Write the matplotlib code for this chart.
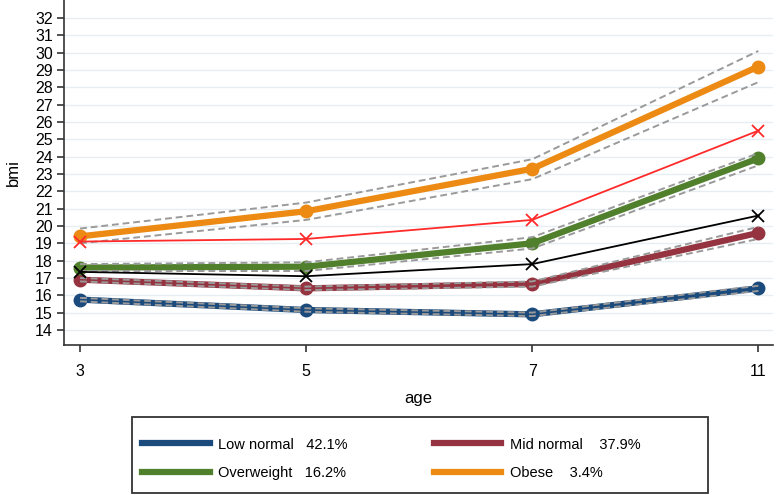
import matplotlib
matplotlib.use('Agg')
import matplotlib.pyplot as plt
from matplotlib.lines import Line2D
from matplotlib.patches import Rectangle

plt.rcParams['font.family'] = ['Liberation Sans', 'DejaVu Sans']

# --- data ---
ages = ['3', '5', '7', '11']

low_normal = [15.75, 15.15, 14.9, 16.4]
low_normal_hi = [15.85, 15.25, 15.0, 16.55]
low_normal_lo = [15.65, 15.05, 14.8, 16.25]

mid_normal = [16.9, 16.4, 16.65, 19.6]
mid_normal_hi = [17.0, 16.5, 16.8, 19.95]
mid_normal_lo = [16.8, 16.3, 16.5, 19.25]

overweight = [17.6, 17.65, 19.0, 23.9]
overweight_hi = [17.8, 17.9, 19.35, 24.2]
overweight_lo = [17.4, 17.4, 18.7, 23.5]

obese = [19.4, 20.85, 23.3, 29.2]
obese_hi = [19.85, 21.35, 23.85, 30.1]
obese_lo = [19.0, 20.35, 22.7, 28.3]

# reference curves (crosses)
red_ref = [19.1, 19.25, 20.35, 25.5]
black_ref = [17.35, 17.1, 17.8, 20.6]

groups = ['Low normal', 'Mid normal', 'Overweight', 'Obese']
shares = ['42.1%', '37.9%', '16.2%', '3.4%']
colors = ['#1b4a7c', '#953440', '#50802c', '#ec8a14']

series = [
    (low_normal, low_normal_lo, low_normal_hi),
    (mid_normal, mid_normal_lo, mid_normal_hi),
    (overweight, overweight_lo, overweight_hi),
    (obese, obese_lo, obese_hi),
]

fig = plt.figure(figsize=(7.76, 4.95), dpi=100)
ax = fig.add_axes([0.0825, 0.303, 0.914, 0.697])

x = list(range(len(ages)))

for yv in range(14, 33):
    ax.axhline(yv, color='#e6eef2', lw=1.0, zorder=0)

for (mean, lo, hi), c in zip(series, colors):
    ax.plot(x, mean, color=c, lw=4.5, marker='o', ms=9, zorder=3)
    ax.plot(x, hi, color='#9a9a9a', lw=1.4, ls=(0, (3.5, 2)), zorder=4)
    ax.plot(x, lo, color='#9a9a9a', lw=1.4, ls=(0, (3.5, 2)), zorder=4)

ax.plot(x, red_ref, color='#ff2a2a', lw=1.3, marker='x', ms=8, mew=1.3, zorder=5)
ax.plot(x, black_ref, color='black', lw=1.3, marker='x', ms=8, mew=1.3, zorder=5)

ax.set_xlim(-0.071, 3.066)
ax.set_ylim(13.13, 33.04)
ax.set_xticks(x)
ax.set_xticklabels(ages)
ax.set_yticks(range(14, 33))
ax.tick_params(axis='both', direction='out', length=5, width=1.2,
               color='#333333', labelsize=11.5)
ax.tick_params(axis='x', pad=9)
ax.tick_params(axis='y', pad=3)
for side in ['top', 'right']:
    ax.spines[side].set_visible(False)
for side in ['left', 'bottom']:
    ax.spines[side].set_color('#333333')
    ax.spines[side].set_linewidth(1.2)

ax.set_xlabel('age', fontsize=12, labelpad=8)
ax.set_ylabel('bmi', fontsize=12)
ax.yaxis.set_label_coords(-0.061, 0.5)

# legend box (wider than its content, as in the reference)
fig.patches.append(Rectangle((0.1701, 0.005), 0.7423, 0.1525,
                             transform=fig.transFigure, fill=False,
                             edgecolor='#333333', lw=1.3))

handles = [Line2D([], [], color=c, lw=4.5) for c in colors]
seps = ['   ', '    ', '   ', '    ']
labels = [f'{g}{sp}{s}' for g, sp, s in zip(groups, seps, shares)]
# order: row-wise (Low, Mid / Overweight, Obese)
order = [0, 2, 1, 3]
leg = fig.legend([handles[i] for i in order], [labels[i] for i in order],
                 ncol=2, loc='center left', bbox_to_anchor=(0.183, 0.073),
                 fontsize=10.5, handlelength=4.66, handletextpad=0.55,
                 columnspacing=5.9, frameon=False,
                 borderpad=0, labelspacing=1.0, borderaxespad=0)

fig.savefig('out.png', dpi=100)
